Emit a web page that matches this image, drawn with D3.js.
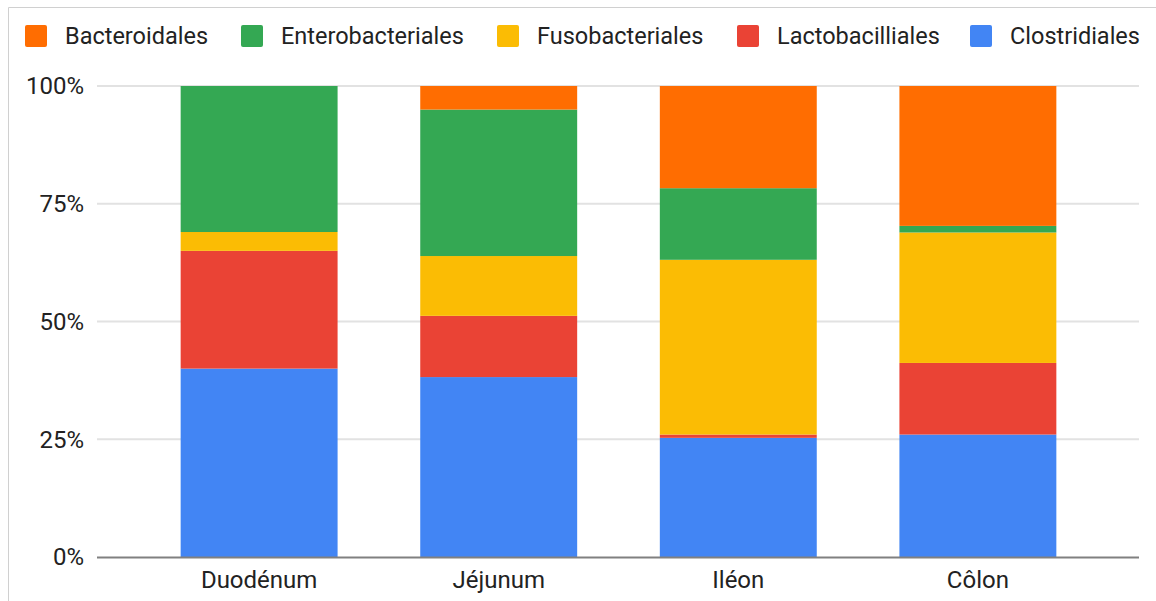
<!DOCTYPE html>
<html>
<head>
<meta charset="utf-8">
<script src="https://cdn.jsdelivr.net/npm/d3@7"></script>
<style>
  body { margin: 0; background: #fff; }
  svg { display: block; font-family: Roboto, Arial, sans-serif; }
</style>
</head>
<body>
<svg id="chart" width="1156" height="601"></svg>
<script>
// data (percent of each sample)
const sites = ["Duodénum", "Jéjunum", "Iléon", "Côlon"];
const orders = ["Clostridiales", "Lactobacilliales", "Fusobacteriales", "Enterobacteriales", "Bacteroidales"];
const legendOrder = ["Bacteroidales", "Enterobacteriales", "Fusobacteriales", "Lactobacilliales", "Clostridiales"];
const clostridiales = [40, 38.2, 25.3, 26];
const lactobacilliales = [25, 13, 0.7, 15.2];
const fusobacteriales = [4, 12.7, 37.1, 27.7];
const enterobacteriales = [31, 31.1, 15.2, 1.4];
const bacteroidales = [0, 5, 21.7, 29.7];
const yTicks = [0, 0.25, 0.5, 0.75, 1];
const colors = ["#4285f4", "#ea4335", "#fbbc04", "#34a853", "#ff6d01"];

const rows = sites.map((s, i) => ({
  site: s,
  Clostridiales: clostridiales[i],
  Lactobacilliales: lactobacilliales[i],
  Fusobacteriales: fusobacteriales[i],
  Enterobacteriales: enterobacteriales[i],
  Bacteroidales: bacteroidales[i]
}));

const svg = d3.select("#chart");
const plotLeft = 97, plotRight = 1139, plotTop = 86, plotBottom = 557;

// outer frame (only top & left edges visible)
svg.append("path")
  .attr("d", "M8.5,601V7.5H1156")
  .attr("fill", "none")
  .attr("stroke", "#d0d0d0")
  .attr("stroke-width", 1);

const x = d3.scaleBand().domain(sites).range([plotLeft + 1, plotRight]).padding(0.345);
const y = d3.scaleLinear().domain([0, 1]).range([plotBottom, plotTop]);
const color = d3.scaleOrdinal().domain(orders).range(colors);

// gridlines
svg.append("g")
  .selectAll("line")
  .data(yTicks.filter(d => d > 0))
  .join("line")
  .attr("x1", plotLeft).attr("x2", plotRight)
  .attr("y1", d => y(d)).attr("y2", d => y(d))
  .attr("stroke", "#e2e2e2")
  .attr("stroke-width", 2);

const series = d3.stack().keys(orders).offset(d3.stackOffsetExpand)(rows);

svg.append("g")
  .selectAll("g")
  .data(series)
  .join("g")
  .attr("fill", d => color(d.key))
  .selectAll("rect")
  .data(d => d)
  .join("rect")
  .attr("x", d => x(d.data.site))
  .attr("y", d => y(d[1]))
  .attr("width", x.bandwidth())
  .attr("height", d => y(d[0]) - y(d[1]));

// baseline
svg.append("line")
  .attr("x1", plotLeft).attr("x2", plotRight)
  .attr("y1", plotBottom + 0.5).attr("y2", plotBottom + 0.5)
  .attr("stroke", "#808080")
  .attr("stroke-width", 2);

// y labels
svg.append("g")
  .selectAll("text")
  .data(yTicks)
  .join("text")
  .attr("x", 84)
  .attr("y", d => y(d))
  .attr("dy", "0.35em")
  .attr("text-anchor", "end")
  .attr("font-size", 24)
  .attr("fill", "#222")
  .text(d3.format(".0%"));

// x labels
svg.append("g")
  .selectAll("text")
  .data(sites)
  .join("text")
  .attr("x", d => x(d) + x.bandwidth() / 2)
  .attr("y", 588)
  .attr("text-anchor", "middle")
  .attr("font-size", 24)
  .attr("fill", "#222")
  .text(d => d);

// legend
const legendX = [25, 241, 497, 737, 970];
const lg = svg.append("g")
  .selectAll("g")
  .data(legendOrder)
  .join("g")
  .attr("transform", (d, i) => `translate(${legendX[i]},25)`);

lg.append("rect")
  .attr("width", 22).attr("height", 22)
  .attr("rx", 2)
  .attr("fill", d => color(d));

lg.append("text")
  .attr("x", 40)
  .attr("y", 11)
  .attr("dy", "0.35em")
  .attr("font-size", 23.5)
  .attr("fill", "#222")
  .text(d => d);
</script>
</body>
</html>
